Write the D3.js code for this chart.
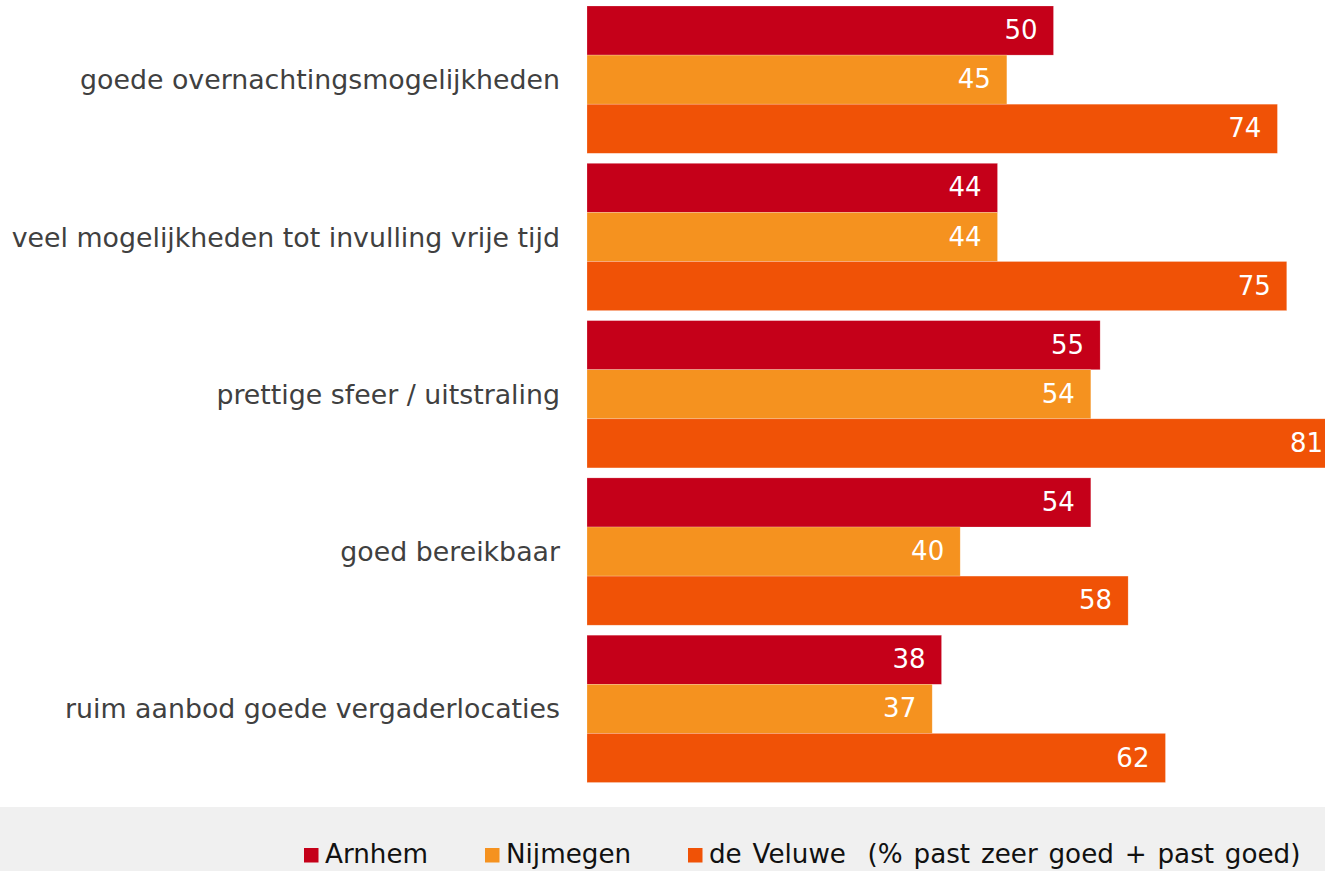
<!DOCTYPE html>
<html>
<head>
<meta charset="utf-8">
<script src="https://cdn.jsdelivr.net/npm/d3@7"></script>
<style>
    body { margin: 0; background: #fff; }
    svg { display: block; }
    .cat-label { font-family: "DejaVu Sans", Verdana, sans-serif; font-size: 26.8px; fill: #404040; }
    .value-label { font-family: "DejaVu Sans", Verdana, sans-serif; font-size: 26px; fill: #fff; }
    .legend-label { font-family: "DejaVu Sans", Verdana, sans-serif; font-size: 26.2px; word-spacing: 2.5px; fill: #111; }
</style>
</head>
<body>
<div id="chart"></div>
<script>
// Data
const categories = [
    "goede overnachtingsmogelijkheden",
    "veel mogelijkheden tot invulling vrije tijd",
    "prettige sfeer / uitstraling",
    "goed bereikbaar",
    "ruim aanbod goede vergaderlocaties"
];
const seriesNames = ["Arnhem", "Nijmegen", "de Veluwe"];
const arnhem = [50, 44, 55, 54, 38];
const nijmegen = [45, 44, 54, 40, 37];
const veluwe = [74, 75, 81, 58, 62];
const legendNote = "(% past zeer goed + past goed)";

(function () {
    const width = 1325;
    const height = 871;
    const colors = ["#c50019", "#f5921f", "#f05206"];
    const seriesValues = [arnhem, nijmegen, veluwe];

    const svg = d3.select("#chart")
        .append("svg")
        .attr("width", width)
        .attr("height", height);

    // Scales
    const x = d3.scaleLinear().domain([0, 100]).range([587, 587 + 933]);
    const y0 = d3.scaleBand()
        .domain(categories)
        .range([6, 782.5])
        .paddingInner(10 / 157.3)
        .paddingOuter(0);
    const y1 = d3.scaleBand()
        .domain(seriesNames)
        .range([0, y0.bandwidth()]);

    // Category labels
    svg.append("g")
        .selectAll("text")
        .data(categories)
        .join("text")
        .attr("class", "cat-label")
        .attr("x", 560)
        .attr("y", (d) => y0(d) + y0.bandwidth() / 2)
        .attr("dy", "0.36em")
        .attr("text-anchor", "end")
        .text((d) => d);

    // Bars per group
    const groups = svg.append("g")
        .selectAll("g.group")
        .data(categories)
        .join("g")
        .attr("class", "group")
        .attr("transform", (d) => `translate(0,${y0(d)})`);

    groups.each(function (c, ci) {
        const g = d3.select(this);
        const data = seriesNames.map((s, si) => ({ series: s, si: si, value: seriesValues[si][ci] }));

        g.selectAll("rect")
            .data(data)
            .join("rect")
            .attr("x", x(0))
            .attr("y", (d) => y1(d.series))
            .attr("width", (d) => x(d.value) - x(0))
            .attr("height", y1.bandwidth())
            .attr("fill", (d) => colors[d.si])
            .attr("stroke", "#fff")
            .attr("stroke-opacity", 0.35)
            .attr("stroke-width", 0.6);

        // keep the label inside the page when the bar runs past the edge
        g.selectAll("text")
            .data(data)
            .join("text")
            .attr("class", "value-label")
            .attr("x", (d) => Math.min(x(d.value) - 16, width - 2))
            .attr("y", (d) => y1(d.series) + y1.bandwidth() / 2)
            .attr("dy", "0.33em")
            .attr("text-anchor", "end")
            .text((d) => d.value);
    });

    // Legend band
    svg.append("rect")
        .attr("x", 0)
        .attr("y", 807)
        .attr("width", width)
        .attr("height", height - 807)
        .attr("fill", "#f0f0f0");

    const legendX = [304, 485, 688];
    const legend = svg.append("g")
        .selectAll("g")
        .data(seriesNames)
        .join("g")
        .attr("transform", (d, i) => `translate(${legendX[i]},848)`);

    legend.append("rect")
        .attr("width", 14.5)
        .attr("height", 14.5)
        .attr("fill", (d, i) => colors[i]);

    legend.append("text")
        .attr("class", "legend-label")
        .attr("x", 21)
        .attr("y", 14.5)
        .attr("xml:space", "preserve")
        .text((d, i) => i === 2 ? d + "  " + legendNote : d);
})();
</script>
</body>
</html>
